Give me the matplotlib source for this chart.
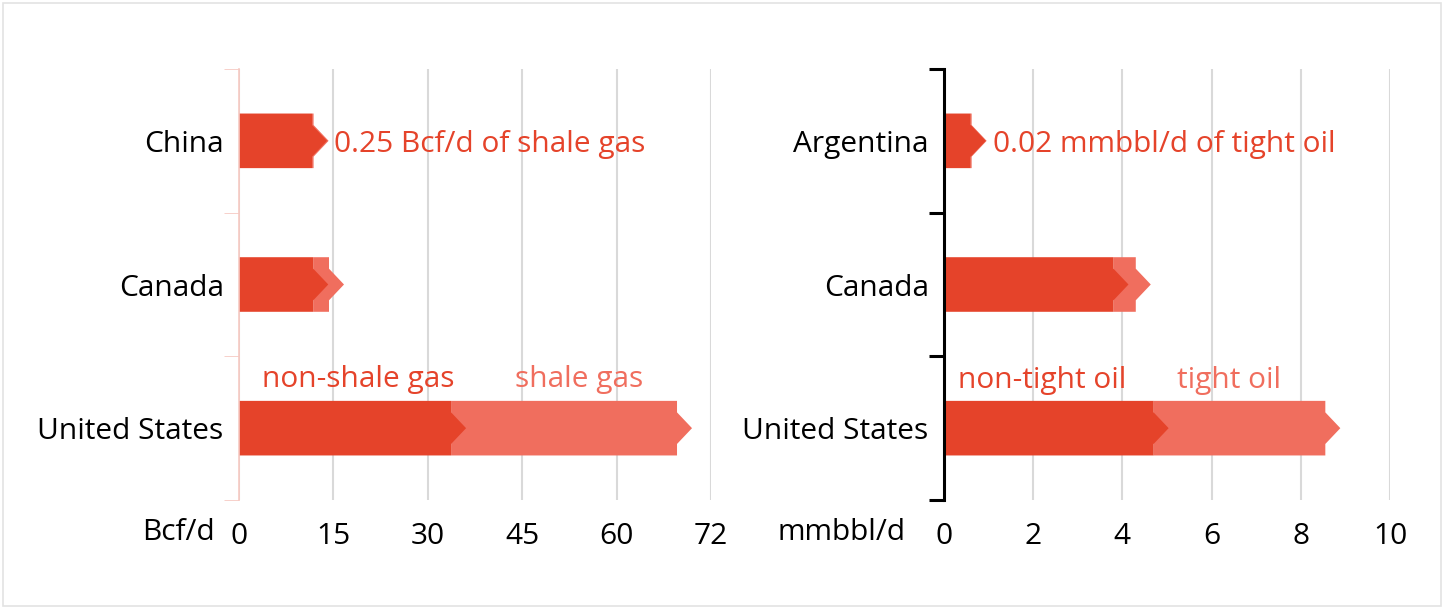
import matplotlib.pyplot as plt
from matplotlib.patches import Polygon, Rectangle

plt.rcParams['font.family'] = ['Open Sans', 'DejaVu Sans']

# production by country, top to bottom
gas_countries = ['China', 'Canada', 'United States']
gas_non_shale = [11.6, 11.8, 33.7]   # Bcf/d
gas_shale = [0.25, 2.5, 35.9]        # Bcf/d

oil_countries = ['Argentina', 'Canada', 'United States']
oil_non_tight = [0.6, 3.8, 4.7]      # mmbbl/d
oil_tight = [0.02, 0.5, 3.85]        # mmbbl/d

gas_ticks = [0, 15, 30, 45, 60, 75]
gas_tick_labels = ['0', '15', '30', '45', '60', '72']
oil_ticks = [0, 2, 4, 6, 8, 10]

DARK = '#e5432a'
LIGHT = '#f06e5e'
GRID = '#d9d9d9'
FS = 21.5

W, H, DPI = 1444, 609, 100
fig = plt.figure(figsize=(W / DPI, H / DPI), dpi=DPI)
fig.patches.append(Rectangle((3 / W, 3 / H), 1 - 6 / W, 1 - 6 / H, transform=fig.transFigure,
                             fill=False, edgecolor='#e3e3e3', lw=1.2))

BAR_H = 0.38
TIP_HALF = 0.11
TIP_PX = 15


def arrow_bar(ax, y, x0, x1, tip, color, z):
    hb = BAR_H / 2
    pts = [(x0, y - hb), (x1, y - hb), (x1, y - TIP_HALF), (x1 + tip, y),
           (x1, y + TIP_HALF), (x1, y + hb), (x0, y + hb)]
    ax.add_patch(Polygon(pts, closed=True, facecolor=color, edgecolor='none', zorder=z))


def panel(rect, countries, base, extra, ticks, tick_labels, xmax, unit, unit_x, spine_color):
    ax = fig.add_axes(rect)
    ax.set_xlim(0, xmax)
    ax.set_ylim(len(countries) - 0.5, -0.5)
    tip = TIP_PX / (rect[2] * W / xmax)
    for i in range(len(countries)):
        arrow_bar(ax, i, base[i], base[i] + extra[i], tip, LIGHT, 3)
        arrow_bar(ax, i, 0, base[i], tip, DARK, 4)
    for s in ['top', 'right', 'bottom']:
        ax.spines[s].set_visible(False)
    ax.spines['left'].set_color(spine_color)
    ax.spines['left'].set_zorder(5)
    ax.set_xticks(ticks)
    ax.set_xticklabels(tick_labels)
    ax.tick_params(axis='x', length=0, labelsize=FS, pad=16, colors='black')
    ax.grid(axis='x', color=GRID, lw=1.5)
    ax.set_axisbelow(True)
    ax.set_yticks(range(len(countries)))
    ax.set_yticklabels(countries)
    ax.tick_params(axis='y', which='major', length=0, labelsize=FS, pad=11)
    ax.set_yticks([i - 0.5 for i in range(len(countries) + 1)], minor=True)
    ax.tick_params(axis='y', which='minor', length=11, color=spine_color)
    ax.text(unit_x, -0.075, unit, transform=ax.transAxes, ha='right', va='center',
            fontsize=FS, color='black')
    return ax, tip


ax1, tip1 = panel([239 / W, 109 / H, 472 / W, 431 / H], gas_countries, gas_non_shale,
                  gas_shale, gas_ticks, gas_tick_labels, 75, 'Bcf/d', -0.051, '#f6c9c2')
ax1.spines['left'].set_linewidth(1.2)
ax1.text(gas_non_shale[0] + gas_shale[0] + tip1 + 0.8, 0, '0.25 Bcf/d of shale gas',
         color=DARK, fontsize=FS, va='center_baseline', ha='left')
ax1.text(19, 1.66, 'non-shale gas', color=DARK, fontsize=FS, va='center', ha='center')
ax1.text(54, 1.66, 'shale gas', color=LIGHT, fontsize=FS, va='center', ha='center')

ax2, tip2 = panel([944 / W, 109 / H, 446 / W, 431 / H], oil_countries, oil_non_tight,
                  oil_tight, oil_ticks, [str(t) for t in oil_ticks], 10, 'mmbbl/d', -0.087,
                  'black')
ax2.spines['left'].set_linewidth(2.2)
ax2.tick_params(axis='y', which='minor', width=2.2)
ax2.text(oil_non_tight[0] + oil_tight[0] + tip2 + 0.15, 0, '0.02 mmbbl/d of tight oil',
         color=DARK, fontsize=FS, va='center_baseline', ha='left')
ax2.text(2.2, 1.67, 'non-tight oil', color=DARK, fontsize=FS, va='center', ha='center')
ax2.text(6.4, 1.67, 'tight oil', color=LIGHT, fontsize=FS, va='center', ha='center')

fig.savefig('out.png', dpi=DPI, facecolor='white')
